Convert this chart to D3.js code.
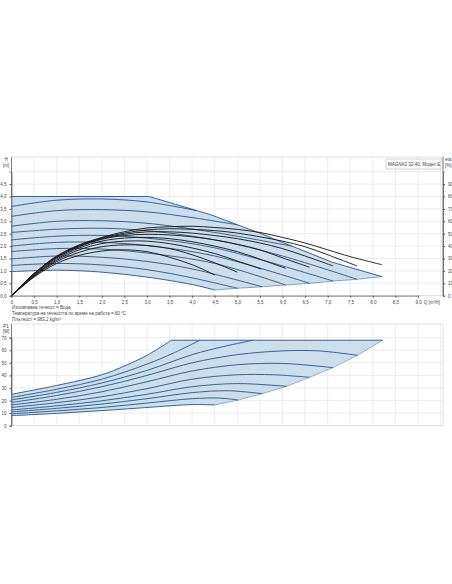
<!DOCTYPE html>
<html>
<head>
<meta charset="utf-8">
<script src="https://cdn.jsdelivr.net/npm/d3@7"></script>
<style>
  body { margin: 0; background: #fff; }
  text { font-family: "Liberation Sans", Arial, sans-serif; fill: #444; }
</style>
</head>
<body>
<svg id="chart" width="452" height="584"></svg>
<script>
// speed curves, head H [m] against flow Q [m3/h]
const headCurves = [
  [[0, 0.97], [1, 1.03], [2, 0.95], [3, 0.75], [4, 0.45], [4.5, 0.23]],
  [[0, 1.22], [1, 1.3], [2, 1.24], [3, 1.05], [4, 0.72], [5.0, 0.3]],
  [[0, 1.48], [1, 1.6], [2, 1.55], [3, 1.38], [4, 1.08], [5.55, 0.36]],
  [[0, 1.78], [1, 1.9], [2, 1.88], [3, 1.72], [4.5, 1.3], [6.07, 0.43]],
  [[0, 2.0], [1, 2.15], [2, 2.15], [3, 2.02], [4.5, 1.6], [6.6, 0.5]],
  [[0, 2.25], [1, 2.4], [2, 2.43], [3, 2.32], [4.5, 1.93], [7.12, 0.59]],
  [[0, 2.55], [1, 2.68], [2, 2.72], [3, 2.62], [4.5, 2.25], [6, 1.6], [7.65, 0.66]],
  [[0, 2.8], [1, 3.0], [2, 3.02], [3, 2.92], [4.5, 2.55], [6.2, 2.0]],
  [[0, 3.2], [1, 3.43], [2, 3.47], [3, 3.38], [4, 3.15], [5.0, 2.86]],
  [[0, 3.6], [1, 3.85], [2, 3.9], [3, 3.78], [4.1, 3.43]]
]
const headMax = [[0, 4.0], [3.05, 4.0], [4.4, 3.27], [5.5, 2.52], [6.0, 2.15], [7.1, 1.35], [8.2, 0.77]]
const headMin = [[8.2, 0.77], [7.65, 0.66], [7.12, 0.59], [6.6, 0.5], [6.07, 0.43], [5.55, 0.36], [5.0, 0.3], [4.5, 0.23]]

// efficiency curves eta [%]
const etaCurves = [
  [[0, 0], [0.5, 15], [1, 26], [1.5, 32.5], [2, 36], [2.5, 37], [3, 35.5], [3.5, 31], [4, 25], [4.5, 16.7]],
  [[0, 0], [0.5, 15.5], [1, 27.5], [1.5, 35], [2, 39.5], [2.5, 41], [3, 40.5], [3.5, 38], [4, 33], [4.5, 26.5], [5, 19]],
  [[0, 0], [0.5, 16], [1, 28.5], [1.5, 37], [2, 42], [2.5, 44], [3, 44], [3.5, 42], [4, 38.5], [4.5, 34], [5, 28], [5.53, 21.5]],
  [[0, 0], [0.5, 16.5], [1, 29.5], [1.5, 38.5], [2, 44], [2.5, 46.5], [3, 47], [3.5, 46], [4, 43.5], [4.5, 40], [5, 35.5], [5.5, 29.5], [6.07, 22]],
  [[0, 0], [0.5, 17], [1, 30.5], [1.5, 39.5], [2, 45.5], [2.5, 48.5], [3, 49.5], [3.5, 49], [4, 47.5], [4.5, 45], [5, 41.5], [5.5, 37], [6, 30.5], [6.6, 23]],
  [[0, 0], [0.5, 17.5], [1, 31], [1.5, 40], [2, 46], [2.5, 49.5], [3, 51.5], [3.5, 51.5], [4, 50.5], [4.5, 48.5], [5, 46], [5.5, 42.5], [6, 38], [6.5, 32], [7.12, 24]],
  [[0, 0], [0.5, 17.8], [1, 31.5], [1.5, 40.5], [2, 46.5], [2.5, 50.5], [3, 53], [3.5, 54], [4, 53.5], [4.5, 52.5], [5, 50.5], [5.5, 47.5], [6, 44], [6.5, 39.5], [7, 33], [7.65, 24]],
  [[0, 0], [0.5, 18], [1, 32], [1.5, 41], [2, 47], [2.5, 51.6], [3, 54.6], [3.5, 55.6], [4, 56], [4.5, 55], [5, 53.5], [5.5, 51], [6, 47], [6.5, 42.5], [7, 37], [7.5, 31.5], [8.2, 25]]
]

// power curves P1 [W]
const powerCurves = [
  [[0, 8], [1, 9.8], [2, 12], [3, 14.5], [4, 16.8], [4.5, 16.5]],
  [[0, 9.5], [1, 11.8], [2, 14.5], [3, 18], [4, 21.5], [4.6, 22], [5.02, 20.4]],
  [[0, 11], [1, 13.8], [2, 17.2], [3, 21.5], [4, 26.3], [4.8, 27.8], [5.55, 25.5]],
  [[0, 12.5], [1, 15.8], [2, 19.8], [3, 25], [4, 31], [5, 33.5], [6.09, 31.3]],
  [[0, 14.5], [1, 18.3], [2, 23], [3, 29.5], [4, 37], [5, 40.5], [5.8, 40.5], [6.6, 38.5]],
  [[0, 16.5], [1, 21], [2, 27], [3, 35], [4, 43.5], [5, 48.5], [6, 49.5], [7.12, 46.2]],
  [[0, 18.5], [1, 24], [2, 31], [3, 40], [4, 50], [5, 56.5], [6, 59.5], [6.8, 59.5], [7.66, 56]],
  [[0, 20.5], [1, 26.5], [2, 34], [3, 44], [4, 56.5], [4.7, 63], [5.35, 68]],
  [[0, 22.5], [1, 29], [2, 37], [3, 49], [3.6, 58], [4.17, 68]]
]
const powerRise = [[0, 25], [1, 32], [2, 40.5], [2.5, 47.5], [3, 56], [3.54, 68]]
const powerFlat = [[3.54, 68], [8.22, 68]]
const powerMin = [[8.22, 68], [7.66, 56], [7.12, 46.2], [6.6, 38.5], [6.09, 31.3], [5.55, 25.5], [5.02, 20.4], [4.5, 16.5]]

const qTicks = d3.range(0, 9.01, 0.5)
const hTicks = d3.range(0, 4.51, 0.5)
const etaTicks = d3.range(0, 91, 10)
const pTicks = d3.range(0, 71, 10)

const fmt = d => d3.format('.1f')(d).replace('.', ',')
const svg = d3.select('#chart')

const left = 11.5, right = 443
const x = d3.scaleLinear().domain([0, 9]).range([left, 418])
const yH = d3.scaleLinear().domain([0, 5]).range([295.7, 171.7])
const yEta = d3.scaleLinear().domain([0, 100]).range([295.7, 171.7])
const yP = d3.scaleLinear().domain([0, 70]).range([425.7, 337.7])

const blue = '#1f5591'
const fill = '#c9d9e8'
const grid = '#e3e3e3'

function drawGrid(top, bottom, yScale, yvals) {
  const g = svg.append('g')
  g.selectAll('.v').data(d3.range(0.5, 9.6, 0.5)).join('line')
    .attr('x1', d => x(d)).attr('x2', d => x(d))
    .attr('y1', top).attr('y2', bottom)
    .attr('stroke', grid).attr('stroke-width', 0.6)
  g.selectAll('.h').data(yvals).join('line')
    .attr('x1', left).attr('x2', right)
    .attr('y1', d => yScale(d)).attr('y2', d => yScale(d))
    .attr('stroke', grid).attr('stroke-width', 0.6)
  g.append('rect').attr('x', left).attr('y', top)
    .attr('width', right - left).attr('height', bottom - top)
    .attr('fill', 'none').attr('stroke', '#ccc').attr('stroke-width', 0.6)
  g.append('line').attr('x1', left).attr('x2', left).attr('y1', top).attr('y2', bottom)
    .attr('stroke', '#555').attr('stroke-width', 0.7)
}

// top chart
drawGrid(157, 295.7, yH, d3.range(0.5, 5.01, 0.5))
svg.append('line').attr('x1', right).attr('x2', right).attr('y1', 157).attr('y2', 295.7)
  .attr('stroke', '#555').attr('stroke-width', 0.7)

const lineH = d3.line().x(d => x(d[0])).y(d => yH(d[1])).curve(d3.curveCatmullRom)
const areaPts = headMax.concat(headMin, headCurves[0].slice().reverse())
svg.append('path')
  .attr('d', d3.line().x(d => x(d[0])).y(d => yH(d[1]))(areaPts))
  .attr('fill', fill).attr('opacity', 0.9)

svg.append('g').selectAll('path').data(headCurves).join('path')
  .attr('d', lineH).attr('fill', 'none').attr('stroke', blue).attr('stroke-width', 0.9)
svg.append('path').attr('d', d3.line().x(d => x(d[0])).y(d => yH(d[1]))(headMax))
  .attr('fill', 'none').attr('stroke', blue).attr('stroke-width', 0.9)
svg.append('path').attr('d', d3.line().x(d => x(d[0])).y(d => yH(d[1]))(headMin))
  .attr('fill', 'none').attr('stroke', blue).attr('stroke-width', 0.5)

const lineEta = d3.line().x(d => x(d[0])).y(d => yEta(d[1])).curve(d3.curveCatmullRom)
svg.append('g').selectAll('path').data(etaCurves).join('path')
  .attr('d', lineEta).attr('fill', 'none').attr('stroke', '#111').attr('stroke-width', 0.9)

svg.append('g').attr('transform', `translate(${left},0)`)
  .call(d3.axisLeft(yH).tickValues(hTicks).tickFormat(fmt).tickSize(2))
svg.append('g').attr('transform', `translate(${right},0)`)
  .call(d3.axisRight(yEta).tickValues(etaTicks).tickFormat(d3.format('d')).tickSize(2))
svg.append('g').attr('transform', 'translate(0,295.7)')
  .call(d3.axisBottom(x).tickValues(qTicks).tickFormat((d, i) => i === 0 ? '0' : fmt(d)).tickSize(2))

svg.append('text').attr('x', 432).attr('y', 303.5).attr('text-anchor', 'middle')
  .attr('font-size', 4.5).text('Q [m³/h]')
svg.append('text').attr('x', 6).attr('y', 161).attr('text-anchor', 'middle').attr('font-size', 4.5).text('H')
svg.append('text').attr('x', 6).attr('y', 167).attr('text-anchor', 'middle').attr('font-size', 4.5).text('[m]')
svg.append('text').attr('x', 445).attr('y', 161).attr('font-size', 4.5).text('eta')
svg.append('text').attr('x', 445).attr('y', 167).attr('font-size', 4.5).text('[%]')

svg.append('rect').attr('x', 386).attr('y', 159).attr('width', 55).attr('height', 10)
  .attr('fill', '#fff').attr('stroke', '#aaa').attr('stroke-width', 0.5)
svg.append('text').attr('x', 388).attr('y', 165.8).attr('font-size', 4.5).text('MAGNA3 32-40, Модел E')

const notes = ['Изпомпвана течност = Вода',
  'Температура на течността по време на работа = 60 °C',
  'Плътност = 983.2 kg/m³']
svg.append('g').selectAll('text').data(notes).join('text')
  .attr('x', 12).attr('y', (d, i) => 309 + i * 5.8).attr('font-size', 4.5).text(d => d)

// bottom chart
drawGrid(324, 425.7, yP, pTicks.slice(1))
const lineP = d3.line().x(d => x(d[0])).y(d => yP(d[1])).curve(d3.curveCatmullRom)
const straightP = d3.line().x(d => x(d[0])).y(d => yP(d[1]))
const pArea = powerRise.concat(powerFlat, powerMin, powerCurves[0].slice().reverse())
svg.append('path').attr('d', straightP(pArea))
  .attr('fill', fill).attr('opacity', 0.9)
svg.append('g').selectAll('path').data(powerCurves).join('path')
  .attr('d', lineP).attr('fill', 'none').attr('stroke', blue).attr('stroke-width', 0.9)
svg.append('path').attr('d', lineP(powerRise))
  .attr('fill', 'none').attr('stroke', blue).attr('stroke-width', 0.9)
svg.append('path').attr('d', straightP(powerFlat))
  .attr('fill', 'none').attr('stroke', blue).attr('stroke-width', 0.9)
svg.append('path').attr('d', straightP(powerMin))
  .attr('fill', 'none').attr('stroke', blue).attr('stroke-width', 0.4)

svg.append('g').attr('transform', `translate(${left},0)`)
  .call(d3.axisLeft(yP).tickValues(pTicks).tickFormat(d3.format('d')).tickSize(2))
svg.append('text').attr('x', 6).attr('y', 327.5).attr('text-anchor', 'middle').attr('font-size', 4.5).text('P1')
svg.append('text').attr('x', 6).attr('y', 333).attr('text-anchor', 'middle').attr('font-size', 4.5).text('[W]')

svg.selectAll('.tick text').attr('font-size', 4.5).attr('fill', '#444')
svg.selectAll('.tick line').attr('stroke', '#555')
svg.selectAll('.domain').attr('stroke', '#555').attr('stroke-width', 0.7)
</script>
</body>
</html>
